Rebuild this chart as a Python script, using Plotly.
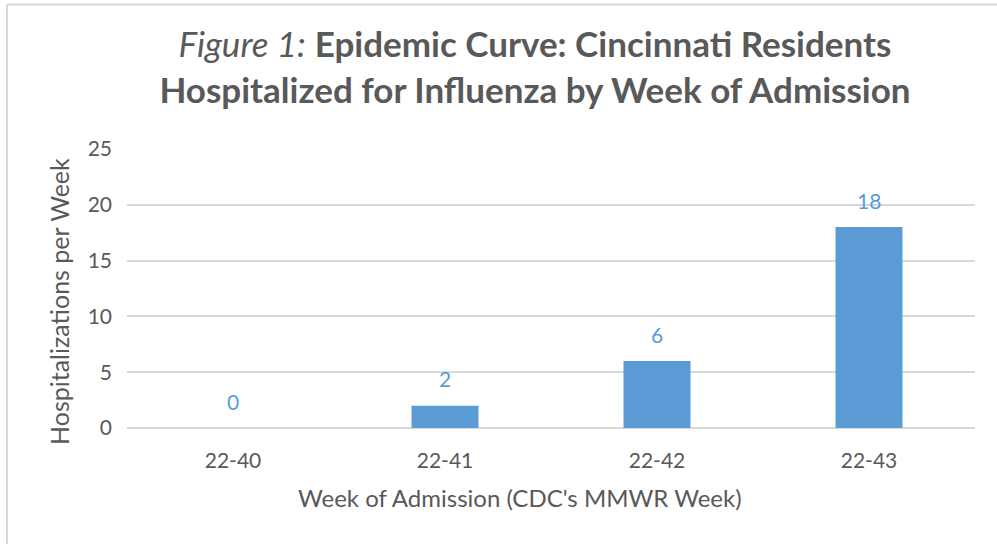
import plotly.graph_objects as go

weeks = ["22-40", "22-41", "22-42", "22-43"]
hospitalizations = [0, 2, 6, 18]
y_ticks = [0, 5, 10, 15, 20, 25]

BAR = "#5B9BD5"
TXT = "#595959"
GRID = "#D9D9D9"
FONT = "Lato"

fig = go.Figure()
fig.add_trace(go.Bar(
    x=weeks, y=hospitalizations, marker_color=BAR, marker_line_width=0,
    width=0.316, hoverinfo="skip"))

for w, v in zip(weeks, hospitalizations):
    fig.add_annotation(x=w, y=v, text=str(v), showarrow=False, yanchor="middle",
                       yshift=27, font=dict(family=FONT, size=21, color=BAR))

fig.add_annotation(xref="paper", yref="paper", x=(520 - 127) / 848, y=-(497 - 428) / 279,
                   text="Week of Admission (CDC's MMWR Week)", showarrow=False,
                   xanchor="center", yanchor="middle",
                   font=dict(family=FONT, size=24, color=TXT))
fig.add_annotation(xref="paper", yref="paper", x=-(127 - 59) / 848, y=(428 - 302) / 279,
                   text="Hospitalizations per Week", showarrow=False, textangle=-90,
                   xanchor="center", yanchor="middle",
                   font=dict(family=FONT, size=25, color=TXT))

# chart frame (left and top edges)
fig.add_shape(type="line", xref="paper", yref="paper",
              x0=(7 - 127) / 848, x1=(7 - 127) / 848, y0=-0.5, y1=1 + (149 - 4.5) / 279,
              line=dict(color="#D9D9D9", width=2))
fig.add_shape(type="line", xref="paper", yref="paper",
              x0=(7 - 127) / 848, x1=1.1, y0=1 + (149 - 4.5) / 279, y1=1 + (149 - 4.5) / 279,
              line=dict(color="#D9D9D9", width=2))

fig.update_layout(
    width=997, height=544,
    margin=dict(l=127, r=22, t=149, b=116),
    paper_bgcolor="white", plot_bgcolor="white",
    showlegend=False,
    title=dict(
        text="<i>Figure 1:</i> <b>Epidemic Curve: Cincinnati Residents</b><br><b>Hospitalized for Influenza by Week of Admission</b>",
        x=535 / 997, xanchor="center", xref="container",
        y=1 - 57 / 544, yanchor="middle", yref="container",
        font=dict(family=FONT, size=35, color=TXT)),
    xaxis=dict(showgrid=False, showline=False, ticks="", zeroline=False,
               tickfont=dict(family=FONT, size=21, color=TXT), ticklabelstandoff=18),
    yaxis=dict(range=[0, 25], tickvals=y_ticks, showgrid=True, gridcolor=GRID, gridwidth=1.5,
               zeroline=True, zerolinecolor=GRID, zerolinewidth=1.5, showline=False, ticks="",
               tickfont=dict(family=FONT, size=21, color=TXT), ticklabelstandoff=14),
)

fig.write_html("out.html", config={"displayModeBar": False},
               post_script="document.body.style.margin='0px';")
